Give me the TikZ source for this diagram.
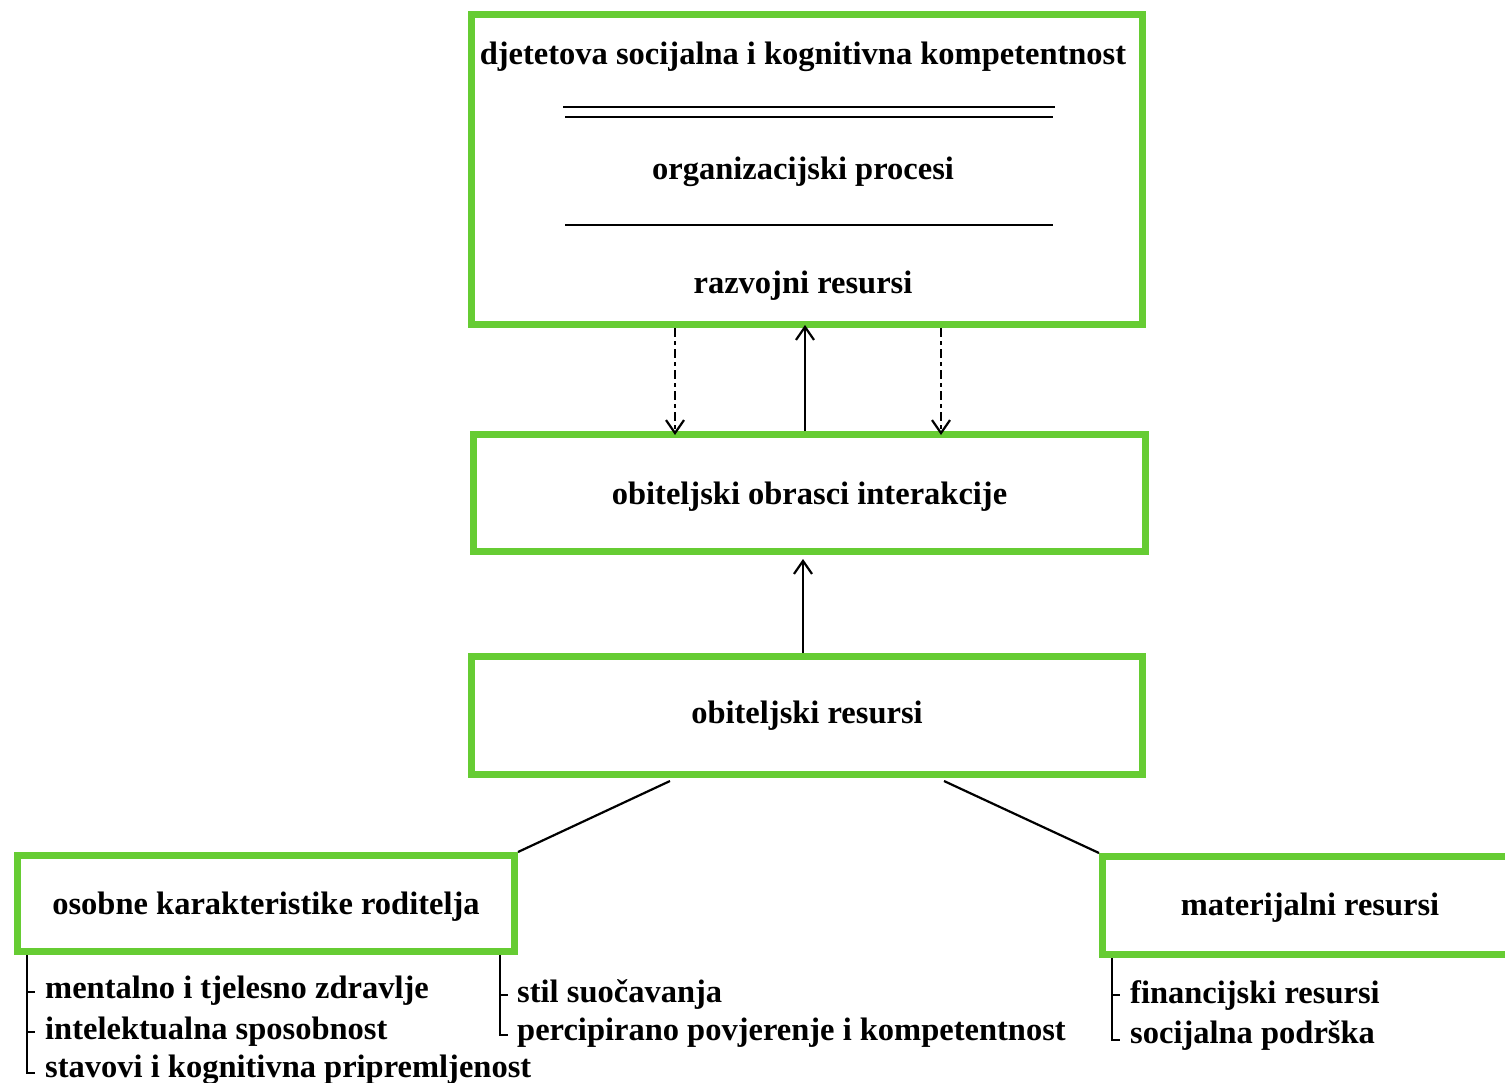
\documentclass[tikz,border=0pt]{standalone}
\usepackage{fontspec}
\setmainfont{Liberation Serif}
\usetikzlibrary{arrows.meta,calc}
\definecolor{boxgreen}{RGB}{102,204,51}
\begin{document}
\begin{tikzpicture}[x=1pt,y=-1pt,
  every node/.style={font=\fontsize{32.5}{39}\selectfont\bfseries},
  gbox/.style={draw=boxgreen,line width=7pt,rectangle,inner sep=0pt},
  lbl/.style={inner sep=0pt,anchor=base},
  item/.style={inner sep=0pt,anchor=base west},
  rule/.style={line width=2.2pt},
  brk/.style={line width=2pt},
  up/.style={line width=2.2pt,-{Straight Barb[length=13pt,width=18pt,line width=2.2pt]}},
  dn/.style={line width=2.2pt,dash pattern=on 9pt off 4pt on 4pt off 4pt,-{Straight Barb[length=13pt,width=18pt,line width=2.2pt]}}
]
\useasboundingbox (0,0) rectangle (1505,1082);
% boxes
\node[gbox,minimum width=671pt,minimum height=310pt] (top) at (807,169.5) {};
\node[gbox,minimum width=672pt,minimum height=117pt,text depth=0pt] (mid) at (809.5,493) {obiteljski obrasci interakcije};
\node[gbox,minimum width=671pt,minimum height=118pt] (res) at (807,715.5) {obiteljski resursi};
\node[gbox,minimum width=497pt,minimum height=96pt,text depth=0pt] (lft) at (266,903.5) {osobne karakteristike roditelja};
\node[gbox,minimum width=413pt,minimum height=98pt] (rgt) at (1309,905.5) {};
\node[lbl] (rgtt) at (1310,915) {materijalni resursi};
% top box content
\node[lbl] (t1) at (803,64) {djetetova socijalna i kognitivna kompetentnost};
\node[lbl] (t2) at (803,179) {organizacijski procesi};
\node[lbl] (t3) at (803,293) {razvojni resursi};
\coordinate (l1a) at (563,107); \coordinate (l1b) at (1055,107);
\coordinate (l2a) at (565,117); \coordinate (l2b) at (1053,117);
\coordinate (l3a) at (565,225); \coordinate (l3b) at (1053,225);
\draw[rule] (l1a) -- (l1b);
\draw[rule] (l2a) -- (l2b);
\draw[rule] (l3a) -- (l3b);
% arrows between top and mid
\coordinate (ax1) at (675,0);
\coordinate (ax2) at (805,0);
\coordinate (ax3) at (941,0);
\coordinate (ax4) at (803,0);
\draw[dn,shorten >=-4pt] (top.south -| ax1) -- (mid.north -| ax1);
\draw[up,shorten >=-3pt] (mid.north -| ax2) -- (top.south -| ax2);
\draw[dn,shorten >=-4pt] (top.south -| ax3) -- (mid.north -| ax3);
\draw[up,shorten >=4pt] (res.north -| ax4) -- (mid.south -| ax4);
% lines to lower boxes
\coordinate (s1) at (670,781);
\coordinate (s2) at (944,781);
\draw[rule] (s1) -- (lft.north east);
\draw[rule] (s2) -- (rgt.north west);
% left list
\coordinate (v1) at (27,0);
\draw[brk] (lft.south -| v1) |- (35,1073);
\draw[brk] (27,992) -- (35,992);
\draw[brk] (27,1032) -- (35,1032);
\node[item] (i1) at (45,998) {mentalno i tjelesno zdravlje};
\node[item] (i2) at (45,1039) {intelektualna sposobnost};
\node[item] (i3) at (45,1077) {stavovi i kognitivna pripremljenost};
% middle list
\coordinate (v2) at (500,0);
\draw[brk] (lft.south -| v2) |- (508,1035);
\draw[brk] (500,995) -- (508,995);
\node[item] (j1) at (517,1002) {stil suočavanja};
\node[item] (j2) at (517,1040) {percipirano povjerenje i kompetentnost};
% right list
\coordinate (v3) at (1112,0);
\draw[brk] (rgt.south -| v3) |- (1120,1040);
\draw[brk] (1112,995) -- (1120,995);
\node[item] (k1) at (1130,1003) {financijski resursi};
\node[item] (k2) at (1130,1043) {socijalna podrška};
\end{tikzpicture}
\end{document}
